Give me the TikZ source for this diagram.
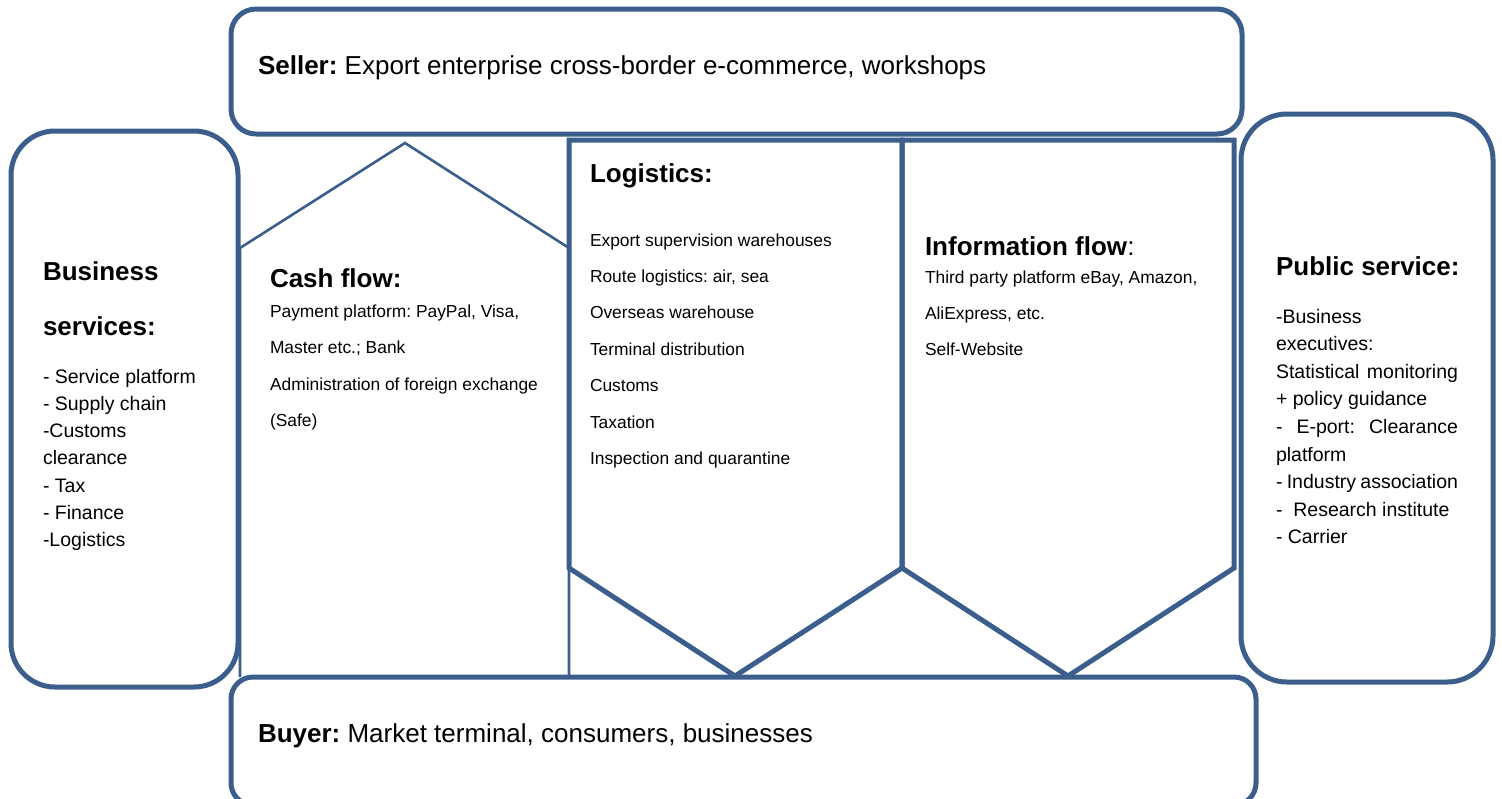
\documentclass[tikz,border=0pt]{standalone}
\usepackage{fontspec}
\setmainfont{Liberation Sans}
\frenchspacing
\definecolor{bl}{RGB}{59,94,140}
\begin{document}
\begin{tikzpicture}[x=0.5pt,y=-0.5pt,
  thick box/.style={draw=bl,line width=2.5pt},
  thin box/.style={draw=bl,line width=1.3pt},
  txt/.style={anchor=base west,inner sep=0pt,outer sep=0pt,execute at begin node=\frenchspacing},
  big/.style={font=\fontsize{13}{15.6}\selectfont},
]
\useasboundingbox (0,0) rectangle (1502,798);
% boxes
\draw[thick box,rounded corners=12.5pt] (231,9) rectangle (1242,134);
\draw[thick box,rounded corners=22pt] (11,131) rectangle (238,687);
\draw[thick box,rounded corners=23pt] (1241,114) rectangle (1493,682);
\draw[thick box,rounded corners=11pt] (231,677) rectangle (1256,805);
% cash flow house
\draw[thin box,line join=miter] (240,677) -- (240,248) -- (405,143) -- (569,248) -- (569,677);
% logistics
\draw[thick box,line join=miter] (569,140) -- (569,568) -- (735,676) -- (902,568) -- (902,140) -- cycle;
% information flow
\draw[thick box,line join=miter] (902,140) -- (902,568) -- (1068,676) -- (1234,568) -- (1234,140) -- cycle;
% texts
\node[txt,big] (seller) at (258,74) {\textbf{Seller:} Export enterprise cross-border e-commerce, workshops};
\node[txt,big] (buyer) at (258,742) {\textbf{Buyer:} Market terminal, consumers, businesses};
\node[txt] (bsh) at (43,280) {\parbox[t]{150pt}{\fontsize{13}{27.5}\selectfont\bfseries Business\\services:}};
\node[txt] (bsi) at (43,383) {\parbox[t]{150pt}{\fontsize{9.75}{13.65}\selectfont - Service platform\\- Supply chain\\-Customs\\clearance\\- Tax\\- Finance\\-Logistics}};
\node[txt,big] (cfh) at (270,287) {\textbf{Cash flow:}};
\node[txt] (cfi) at (270,317) {\parbox[t]{200pt}{\fontsize{8.7}{18.25}\selectfont Payment platform: PayPal, Visa,\\Master etc.; Bank\\Administration of foreign exchange\\(Safe)}};
\node[txt,big] (lgh) at (590,182) {\textbf{Logistics:}};
\node[txt] (lgi) at (590,246) {\parbox[t]{200pt}{\fontsize{8.7}{18.2}\selectfont Export supervision warehouses\\Route logistics: air, sea\\Overseas warehouse\\Terminal distribution\\Customs\\Taxation\\Inspection and quarantine}};
\node[txt,big] (ifh) at (925,255) {\textbf{Information flow}:};
\node[txt] (ifi) at (925,283) {\parbox[t]{200pt}{\fontsize{8.7}{18.2}\selectfont Third party platform eBay, Amazon,\\AliExpress, etc.\\Self-Website}};
\node[txt,big] (psh) at (1276,275) {\textbf{Public service:}};
\node[txt] (psi) at (1276,323) {\parbox[t]{91pt}{\fontsize{9.75}{13.8}\selectfont -Business\\executives:\\\makebox[91pt][s]{Statistical monitoring}\\+ policy guidance\\\makebox[91pt][s]{-\ \ E-port:\ \ Clearance}\\platform\\- Industry association\\-\ \ Research institute\\- Carrier}};
\end{tikzpicture}
\end{document}
